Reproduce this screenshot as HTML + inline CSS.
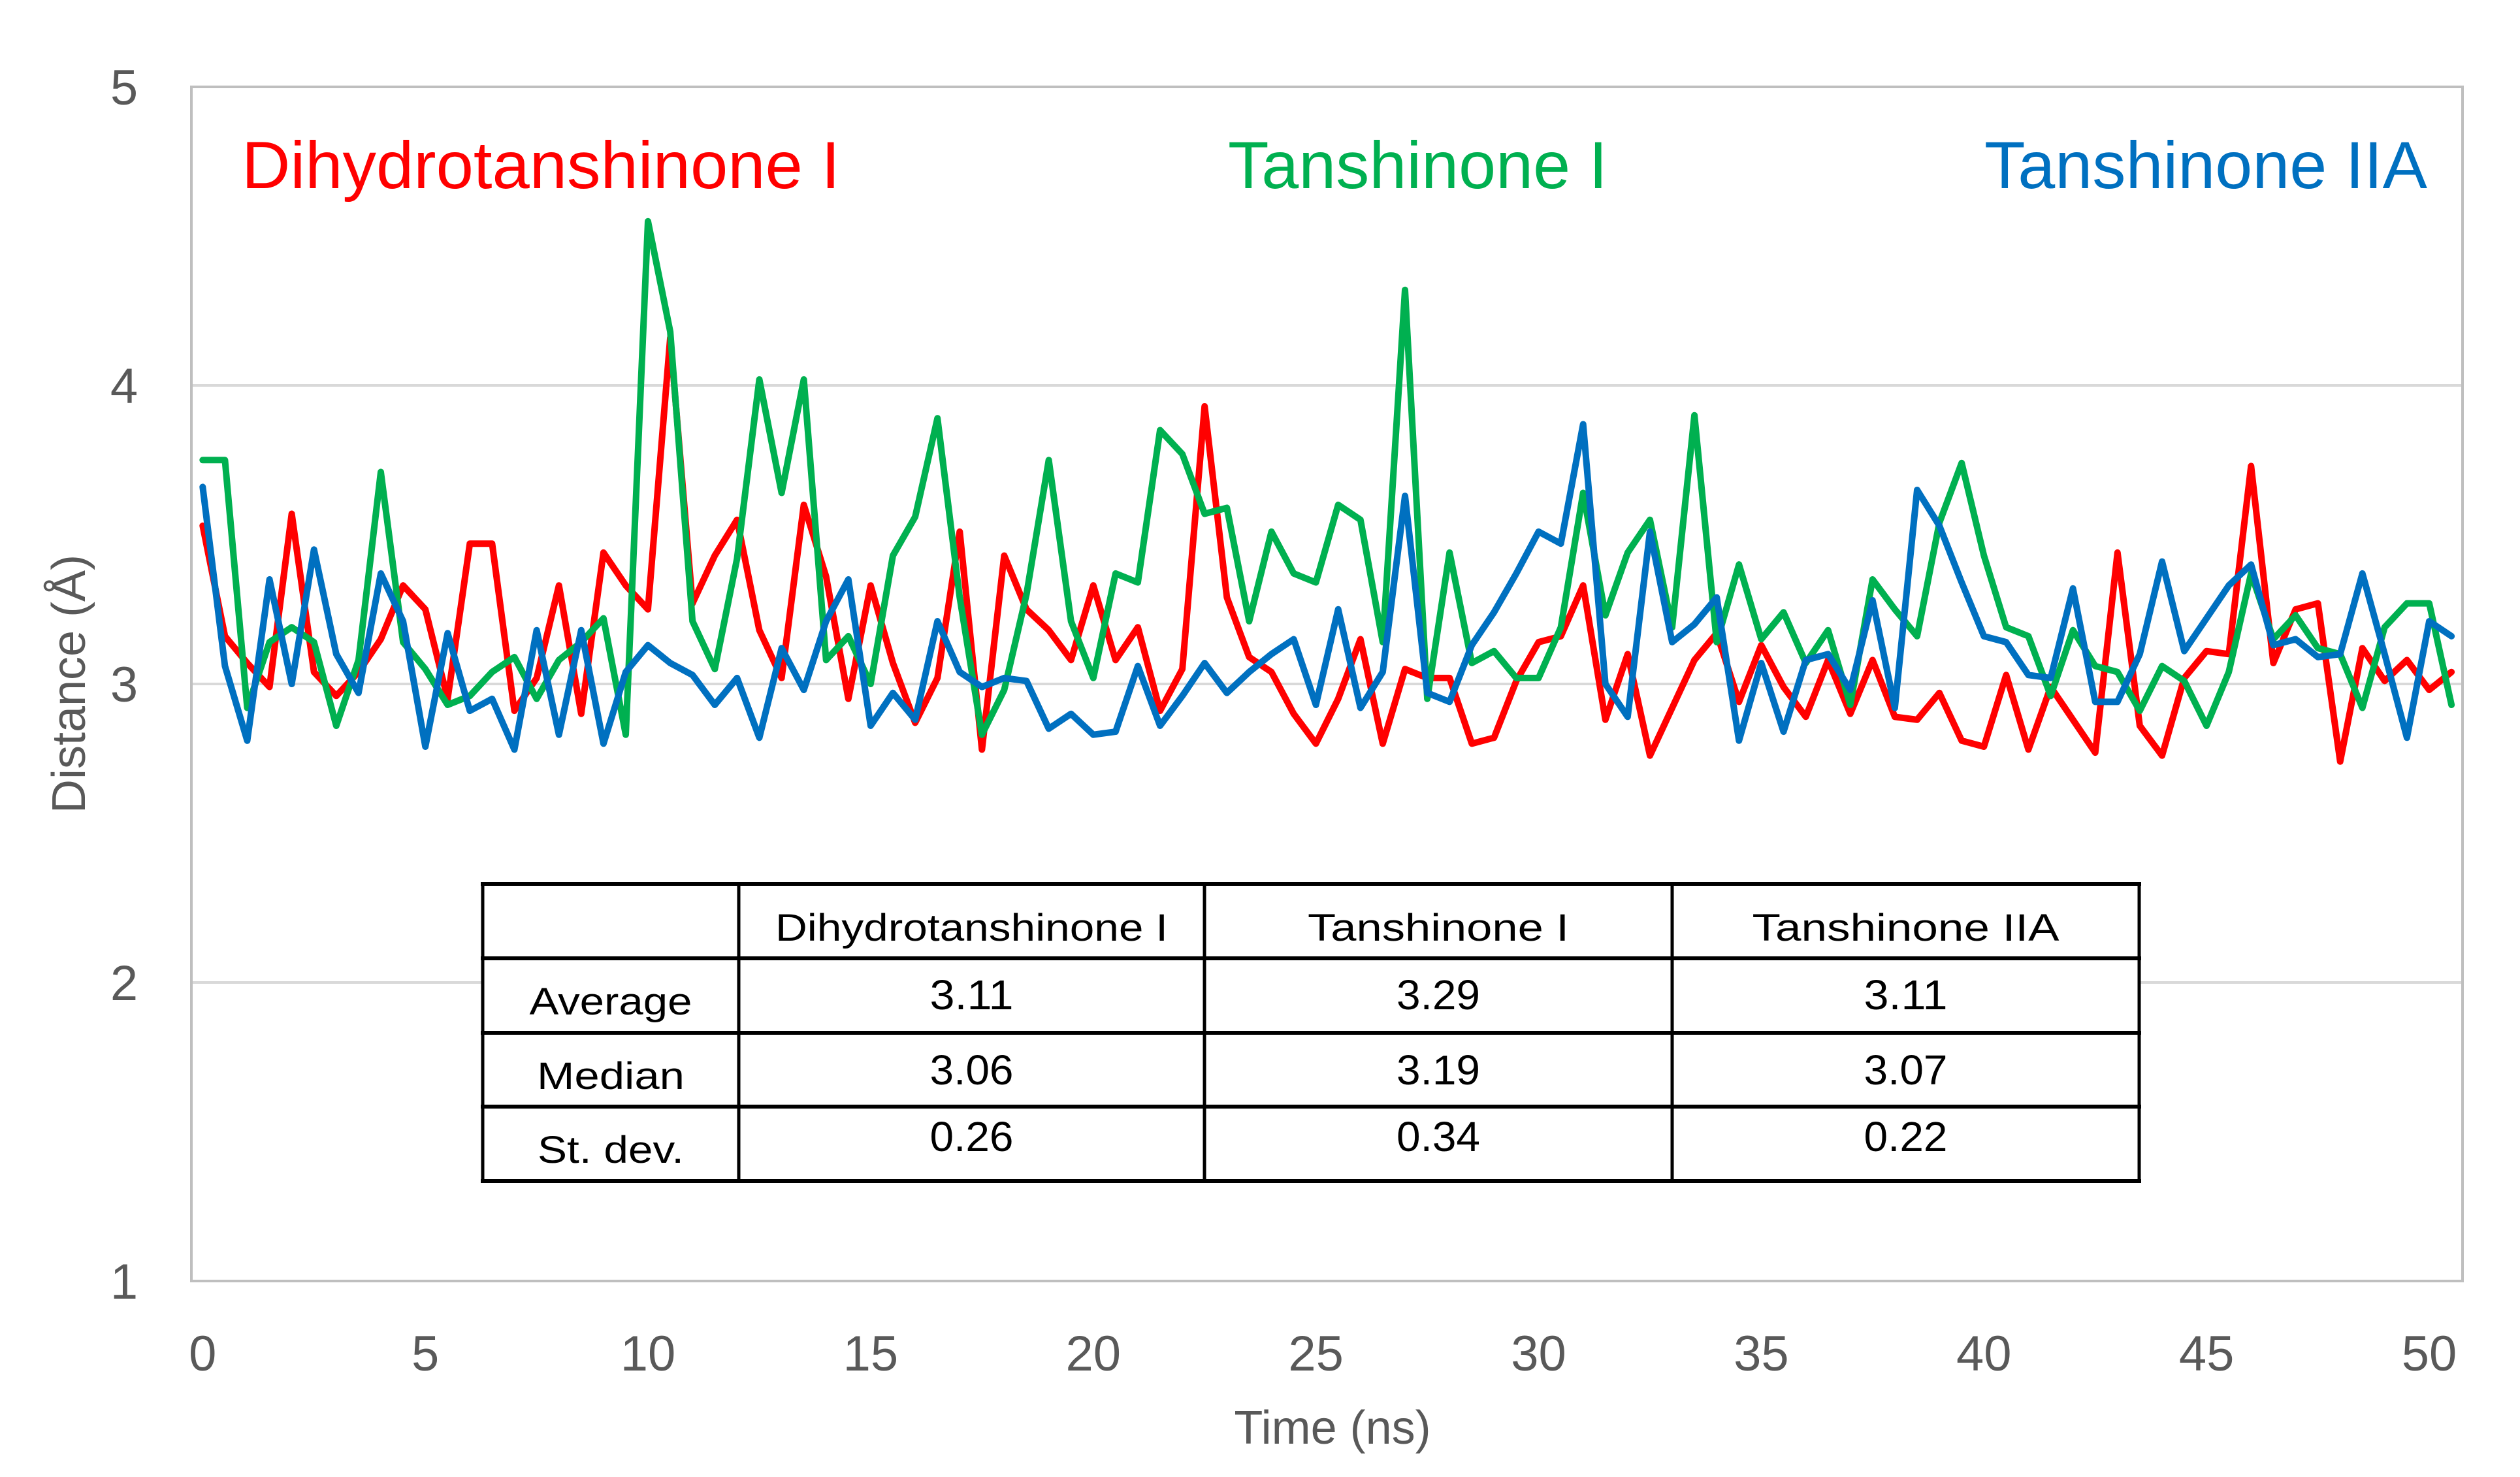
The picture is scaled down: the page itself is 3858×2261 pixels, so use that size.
<!DOCTYPE html>
<html><head><meta charset="utf-8"><style>
html,body{margin:0;padding:0;background:#fff;}
svg{display:block;font-family:"Liberation Sans",sans-serif;}
</style></head><body>
<svg id="chart" width="3858" height="2261" viewBox="0 0 3858 2261" xmlns="http://www.w3.org/2000/svg">
<rect x="0" y="0" width="3858" height="2261" fill="#fff"/>
<g id="grid"></g>
<rect x="293" y="133" width="3477" height="1828" fill="none" stroke="#bfbfbf" stroke-width="4"/>
<g id="yticks"></g>
<g id="xticks"></g>
<text x="2040" y="2210" font-size="72" fill="#595959" text-anchor="middle">Time (ns)</text>
<text transform="translate(130,1047) rotate(-90)" font-size="72" fill="#595959" text-anchor="middle">Distance (Å)</text>
<g id="series"></g>
<text x="370" y="288" font-size="102" fill="#ff0000" textLength="916" lengthAdjust="spacingAndGlyphs">Dihydrotanshinone I</text>
<text x="1880" y="288" font-size="102" fill="#00b050" textLength="581" lengthAdjust="spacingAndGlyphs">Tanshinone I</text>
<text x="3038" y="288" font-size="102" fill="#0070c0" textLength="678" lengthAdjust="spacingAndGlyphs">Tanshinone IIA</text>
<g id="table">
<rect x="739" y="1353" width="2536" height="455" fill="#fff"/>
</g>
</svg>
<script>
const times = [];
for (let i = 0; i < 102; i++) times.push(i * 0.5);
const dihydroValues = [3.53,3.16,3.07,2.99,3.57,3.04,2.96,3.04,3.15,3.33,3.25,2.95,3.47,3.47,2.91,3.02,3.33,2.90,3.44,3.33,3.25,4.16,3.27,3.43,3.55,3.18,
3.02,3.60,3.36,2.95,3.33,3.07,2.87,3.02,3.51,2.78,3.43,3.25,3.18,3.08,3.33,3.08,3.19,2.91,3.05,3.93,3.29,3.09,3.04,2.90,2.80,2.95,
3.15,2.80,3.05,3.02,3.02,2.80,2.82,3.01,3.14,3.16,3.33,2.88,3.10,2.76,2.92,3.08,3.17,2.94,3.13,2.99,2.89,3.08,2.90,3.08,2.89,
2.88,2.97,2.81,2.79,3.03,2.78,2.99,2.88,2.77,3.44,2.86,2.76,3.02,3.11,3.10,3.73,3.07,3.25,3.27,2.74,3.12,3.01,3.08,2.98,3.04];
const tanshinoneIValues = [3.75,3.75,2.92,3.14,3.19,3.14,2.86,3.08,3.71,3.14,3.05,2.93,2.96,3.04,3.09,2.95,3.08,3.14,3.22,2.83,4.55,4.18,3.21,3.05,3.42,4.02,
3.64,4.02,3.08,3.16,3.00,3.43,3.56,3.89,3.29,2.83,2.98,3.30,3.75,3.21,3.02,3.37,3.34,3.85,3.77,3.57,3.59,3.21,3.51,3.37,3.34,3.60,
3.55,3.14,4.32,2.95,3.44,3.07,3.11,3.02,3.02,3.19,3.64,3.23,3.44,3.55,3.19,3.90,3.14,3.40,3.15,3.24,3.07,3.18,2.93,3.35,3.25,
3.16,3.54,3.74,3.43,3.19,3.16,2.96,3.18,3.06,3.04,2.91,3.06,3.01,2.86,3.04,3.37,3.15,3.23,3.12,3.10,2.92,3.19,3.27,3.27,2.93];
const tanshinoneIIAValues = [3.66,3.06,2.81,3.35,3.00,3.45,3.10,2.97,3.37,3.21,2.79,3.17,2.91,2.95,2.78,3.18,2.83,3.18,2.80,3.04,3.13,3.07,3.03,2.93,3.02,2.82,
3.12,2.98,3.21,3.35,2.86,2.97,2.88,3.21,3.04,2.99,3.02,3.01,2.85,2.90,2.83,2.84,3.06,2.86,2.96,3.07,2.97,3.04,3.10,3.15,2.93,3.25,
2.92,3.04,3.63,2.97,2.94,3.13,3.24,3.37,3.51,3.47,3.87,3.00,2.89,3.51,3.14,3.20,3.29,2.81,3.07,2.84,3.08,3.10,2.98,3.28,2.92,
3.65,3.53,3.34,3.16,3.14,3.03,3.02,3.32,2.94,2.94,3.10,3.41,3.11,3.22,3.33,3.40,3.13,3.15,3.09,3.10,3.37,3.10,2.82,3.21,3.16];
const xTicks = [0,5,10,15,20,25,30,35,40,45,50];
const yTicks = [1,2,3,4,5];
const tableHeaders = ["", "Dihydrotanshinone I", "Tanshinone I", "Tanshinone IIA"];
const rowLabels = ["Average", "Median", "St. dev."];
const dihydroStats = ["3.11", "3.06", "0.26"];
const tanIStats = ["3.29", "3.19", "0.34"];
const tanIIAStats = ["3.11", "3.07", "0.22"];

const NS = "http://www.w3.org/2000/svg";
const X0 = 310.3, X50 = 3719, Y1 = 1961, Y5 = 133;
function xScale(t){ return X0 + (X50 - X0) * t / 50; }
function yScale(v){ return Y1 - (Y1 - Y5) * (v - 1) / 4; }
function mk(tag, attrs, parent){ const e = document.createElementNS(NS, tag); for (const k in attrs) e.setAttribute(k, attrs[k]); parent.appendChild(e); return e; }

const grid = document.getElementById('grid');
yTicks.forEach(v => {
  if (v === 1 || v === 5) return;
  const l = mk('line', {x1:293, x2:3770, y1:yScale(v), y2:yScale(v), stroke:'#d9d9d9', 'stroke-width':4}, grid);
  
  
});
const yt = document.getElementById('yticks');
yTicks.forEach(v => {
  const t = mk('text', {x:190, y:yScale(v)+27, 'font-size':76, fill:'#595959', 'text-anchor':'middle'}, yt);
  
  
  t.textContent = v;
});
const xt = document.getElementById('xticks');
xTicks.forEach(v => {
  const t = mk('text', {x:xScale(v), y:2098, 'font-size':76, fill:'#595959', 'text-anchor':'middle'}, xt);
  
  
  t.textContent = v;
});
const sg = document.getElementById('series');
[[dihydroValues,'#ff0000','series-dihydrotanshinone'],[tanshinoneIValues,'#00b050','series-tanshinone-i'],[tanshinoneIIAValues,'#0070c0','series-tanshinone-iia']].forEach(s => {
  const pts = s[0].map((v,i) => xScale(times[i]).toFixed(1) + ',' + yScale(v).toFixed(1)).join(' ');
  const p = mk('polyline', {points:pts, fill:'none', stroke:s[1], 'stroke-width':10, 'stroke-linejoin':'round', 'stroke-linecap':'round'}, sg);
  
  
});

const tb = document.getElementById('table');
const colX = [739, 1131, 1844, 2560, 3275];
const rowY = [1353, 1467, 1581, 1694, 1808];
rowY.forEach((y,i) => {
  const l = mk('line', {x1:736, x2:3278, y1:y, y2:y, stroke:'#000', 'stroke-width':6}, tb);
  
  
});
colX.forEach((x,i) => {
  const l = mk('line', {x1:x, x2:x, y1:1350, y2:1811, stroke:'#000', 'stroke-width':5}, tb);
  
  
});
const hdrW = [0, 601, 400, 470];
tableHeaders.forEach((h,i) => {
  if (!h) return;
  const t = mk('text', {x:(colX[i]+colX[i+1])/2, y:1440, 'font-size':58, fill:'#000', 'text-anchor':'middle', textLength:hdrW[i], lengthAdjust:'spacingAndGlyphs'}, tb);
  
  
  t.textContent = h;
});
const labW = [249, 226, 224];
const labY = [1553, 1667, 1780];
const valY = [1545, 1660, 1762];
rowLabels.forEach((r,i) => {
  const t = mk('text', {x:(colX[0]+colX[1])/2, y:labY[i], 'font-size':58, fill:'#000', 'text-anchor':'middle', textLength:labW[i], lengthAdjust:'spacingAndGlyphs'}, tb);
  
  
  t.textContent = r;
});
[dihydroStats, tanIStats, tanIIAStats].forEach((col,c) => {
  col.forEach((v,i) => {
    const t = mk('text', {x:(colX[c+1]+colX[c+2])/2, y:valY[i], 'font-size':64, fill:'#000', 'text-anchor':'middle', textLength:128, lengthAdjust:'spacingAndGlyphs'}, tb);
    
    
    t.textContent = v;
  });
});
</script>
</body></html>
